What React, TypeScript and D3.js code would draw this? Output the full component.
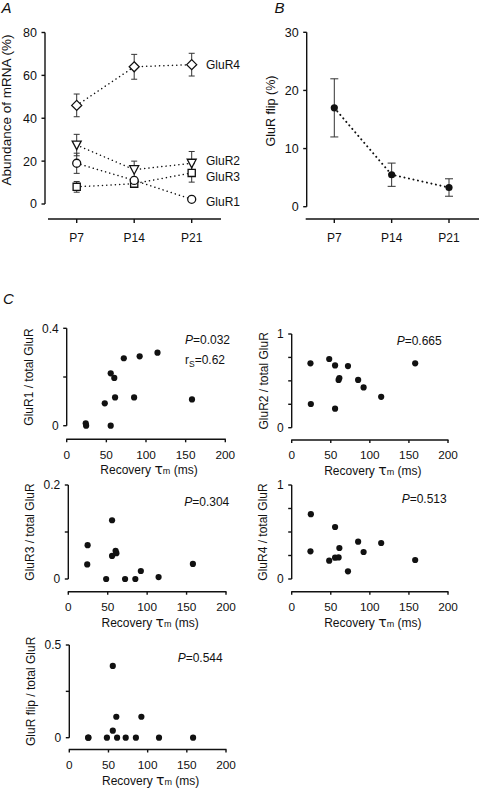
import React from "react";
import * as d3 from "d3";

// ---------- Data ----------
const days = ["P7", "P14", "P21"];
const gluR1 = [19, 11, 2.2];
const gluR1Err = [4.7, 1.5, 0.8];
const gluR2 = [27.5, 16, 19];
const gluR2Err = [5, 4, 5.5];
const gluR3 = [8, 9.5, 14.5];
const gluR3Err = [2.5, 1.5, 4.3];
const gluR4 = [46, 64, 65];
const gluR4Err = [5.3, 5.8, 5.3];
const flipPct = [17, 5.5, 3.3];
const flipPctErr = [5, 2, 1.5];

const aTicks = [0, 20, 40, 60, 80];
const bTicks = [0, 10, 20, 30];
const tauTicks = [0, 50, 100, 150, 200];

const tau = [24, 24.5, 48, 55.5, 55.5, 60, 61, 72, 85, 92, 114.5, 158];
const r1Frac = [0.01, 0, 0.092, 0, 0.215, 0.196, 0.116, 0.277, 0.116, 0.285, 0.3, 0.108];
const r2Frac = [0.687, 0.253, 0.733, 0.665, 0.203, 0.51, 0.53, 0.658, 0.51, 0.43, 0.33, 0.687];
const r3Frac = [0.031, 0.072, 0, 0.125, 0.049, 0.06, 0.055, 0, 0, 0.017, 0.004, 0.032];
const r4Frac = [0.294, 0.69, 0.195, 0.227, 0.553, 0.23, 0.33, 0.082, 0.397, 0.287, 0.383, 0.202];
const flipFrac = [0, 0, 0, 0.387, 0.038, 0.113, 0, 0, 0, 0.113, 0, 0];

const FONT = "'Liberation Sans', Arial, Helvetica, sans-serif";
const INK = "#111";

// ---------- marker shapes ----------
function markerPath(kind: string, cx: number, cy: number): string {
  if (kind === "diamond") {
    const s = 5;
    return `M${cx},${cy - s}L${cx + s},${cy}L${cx},${cy + s}L${cx - s},${cy}Z`;
  }
  if (kind === "triangle") {
    const w = 4.5, h = 4;
    return `M${cx - w},${cy - h}L${cx + w},${cy - h}L${cx},${cy + h + 0.5}Z`;
  }
  if (kind === "square") {
    const s = 3.6;
    return `M${cx - s},${cy - s}L${cx + s},${cy - s}L${cx + s},${cy + s}L${cx - s},${cy + s}Z`;
  }
  const r = 4;
  return `M${cx + r},${cy}A${r},${r} 0 1,1 ${cx - r},${cy}A${r},${r} 0 1,1 ${cx + r},${cy}Z`;
}

function ErrorBar({ x, y1, y2, cap }: { x: number; y1: number; y2: number; cap: number }) {
  return (
    <g stroke="#333" strokeWidth={1}>
      <line x1={x} x2={x} y1={y1} y2={y2} />
      <line x1={x - cap / 2} x2={x + cap / 2} y1={y1} y2={y1} />
      <line x1={x - cap / 2} x2={x + cap / 2} y1={y2} y2={y2} />
    </g>
  );
}

// ---------- Panel A ----------
function PanelA() {
  const x = d3.scalePoint<string>().domain(days).range([76.7, 191.7]);
  const y = d3.scaleLinear().domain([0, 80]).range([204, 32.5]);
  const series = [
    { name: "GluR4", vals: gluR4, err: gluR4Err, kind: "diamond", labelY: 69 },
    { name: "GluR2", vals: gluR2, err: gluR2Err, kind: "triangle", labelY: 165 },
    { name: "GluR3", vals: gluR3, err: gluR3Err, kind: "square", labelY: 181 },
    { name: "GluR1", vals: gluR1, err: gluR1Err, kind: "circle", labelY: 206 },
  ];
  const line = d3
    .line<number>()
    .x((_, i) => x(days[i])!)
    .y((d) => y(d));
  const axX = 45;
  const axisY = 219;
  return (
    <g>
      <text x={1.5} y={13} fontSize={15} fontStyle="italic" fontFamily={FONT} fill={INK}>A</text>
      {/* y axis */}
      <line x1={axX} x2={axX} y1={y(80)} y2={y(0)} stroke={INK} strokeWidth={1.4} />
      {aTicks.map((t) => (
        <g key={t}>
          <line x1={axX - 3.5} x2={axX} y1={y(t)} y2={y(t)} stroke={INK} strokeWidth={1.4} />
          <text x={axX - 8} y={y(t)} dy="0.35em" textAnchor="end" fontSize={12.5} fontFamily={FONT} fill={INK}>{t}</text>
        </g>
      ))}
      <text transform={`translate(6,110) rotate(-90)`} dy="0.35em" textAnchor="middle" fontSize={13.5} fontFamily={FONT} fill={INK}>
        Abundance of mRNA (%)
      </text>
      {/* x axis */}
      <line x1={x.range()[0] - 28.7} x2={x.range()[1] + 29.3} y1={axisY} y2={axisY} stroke={INK} strokeWidth={1.4} />
      {days.map((d) => (
        <g key={d}>
          <line x1={x(d)} x2={x(d)} y1={axisY} y2={axisY + 4} stroke={INK} strokeWidth={1.4} />
          <text x={x(d)} y={241.5} textAnchor="middle" fontSize={12} fontFamily={FONT} fill={INK}>{d}</text>
        </g>
      ))}
      {series.map((s) => (
        <path key={s.name + "l"} d={line(s.vals) || ""} fill="none" stroke={INK} strokeWidth={1.5} strokeDasharray="0.1 4.2" strokeLinecap="round" />
      ))}
      {series.map((s) =>
        s.vals.map((v, i) => (
          <ErrorBar key={s.name + i} x={x(days[i])!} y1={y(v + s.err[i])} y2={y(v - s.err[i])} cap={6} />
        ))
      )}
      {series.map((s) =>
        s.vals.map((v, i) => (
          <path key={s.name + "m" + i} d={markerPath(s.kind, x(days[i])!, y(v))} fill="#fff" stroke={INK} strokeWidth={1.3} />
        ))
      )}
      {series.map((s) => (
        <text key={s.name + "t"} x={206} y={s.labelY} fontSize={12} fontFamily={FONT} fill={INK}>{s.name}</text>
      ))}
    </g>
  );
}

// ---------- Panel B ----------
function PanelB() {
  const x = d3.scalePoint<string>().domain(days).range([334.3, 449]);
  const y = d3.scaleLinear().domain([0, 30]).range([206.7, 32.3]);
  const line = d3
    .line<number>()
    .x((_, i) => x(days[i])!)
    .y((d) => y(d));
  const axX = 306.7;
  const axisY = 219;
  return (
    <g>
      <text x={274.5} y={13} fontSize={15} fontStyle="italic" fontFamily={FONT} fill={INK}>B</text>
      <line x1={axX} x2={axX} y1={y(30)} y2={y(0)} stroke={INK} strokeWidth={1.4} />
      {bTicks.map((t) => (
        <g key={t}>
          <line x1={axX - 3.5} x2={axX} y1={y(t)} y2={y(t)} stroke={INK} strokeWidth={1.4} />
          <text x={axX - 8} y={y(t)} dy="0.35em" textAnchor="end" fontSize={12.5} fontFamily={FONT} fill={INK}>{t}</text>
        </g>
      ))}
      <text transform={`translate(270.5,111) rotate(-90)`} dy="0.35em" textAnchor="middle" fontSize={12.5} fontFamily={FONT} fill={INK}>
        GluR flip (%)
      </text>
      <line x1={x.range()[0] - 28.6} x2={479} y1={axisY} y2={axisY} stroke={INK} strokeWidth={1.4} />
      {days.map((d) => (
        <g key={d}>
          <line x1={x(d)} x2={x(d)} y1={axisY} y2={axisY + 4} stroke={INK} strokeWidth={1.4} />
          <text x={x(d)} y={241.5} textAnchor="middle" fontSize={12} fontFamily={FONT} fill={INK}>{d}</text>
        </g>
      ))}
      <path d={line(flipPct) || ""} fill="none" stroke={INK} strokeWidth={2} strokeDasharray="0.1 4.5" strokeLinecap="round" />
      {flipPct.map((v, i) => (
        <ErrorBar key={i} x={x(days[i])!} y1={y(v + flipPctErr[i])} y2={y(v - flipPctErr[i])} cap={8} />
      ))}
      {flipPct.map((v, i) => (
        <circle key={"c" + i} cx={x(days[i])!} cy={y(v)} r={3.6} fill={INK} />
      ))}
    </g>
  );
}

// ---------- Scatter panels ----------
type ScatterProps = {
  left: number;
  right: number;
  top: number;
  bottom: number;
  axisY: number;
  ymax: number;
  ticks: number[];
  tickLabels: string[];
  ylabel: string;
  ylabelX: number;
  ys: number[];
  p: string;
  pX: number;
  pY: number;
  rs?: string;
};

function Scatter(props: ScatterProps) {
  const { left, right, top, bottom, axisY, ymax, ticks, tickLabels, ylabel, ylabelX, ys, p, pX, pY, rs } = props;
  const x = d3.scaleLinear().domain([0, 200]).range([left, right]);
  const y = d3.scaleLinear().domain([0, ymax]).range([bottom, top]);
  const center = (left + right) / 2;
  return (
    <g fontFamily={FONT} fill={INK}>
      <line x1={left} x2={left} y1={y(ymax)} y2={y(0)} stroke={INK} strokeWidth={1.4} />
      {ticks.map((t, i) => (
        <g key={t}>
          <line x1={left - 3.5} x2={left} y1={y(t)} y2={y(t)} stroke={INK} strokeWidth={1.4} />
          {tickLabels[i] !== "" && (
            <text x={left - 8} y={y(t)} dy="0.35em" textAnchor="end" fontSize={12}>{tickLabels[i]}</text>
          )}
        </g>
      ))}
      <text transform={`translate(${ylabelX},${(top + bottom) / 2}) rotate(-90)`} dy="0.35em" textAnchor="middle" fontSize={12}>
        {ylabel}
      </text>
      <line x1={left - 0.5} x2={right + 0.5} y1={axisY} y2={axisY} stroke={INK} strokeWidth={1.4} />
      {tauTicks.map((t) => (
        <g key={t}>
          <line x1={x(t)} x2={x(t)} y1={axisY} y2={axisY + 3} stroke={INK} strokeWidth={1.4} />
          <text x={x(t)} y={axisY + 19.3} textAnchor="middle" fontSize={11.8}>{t}</text>
        </g>
      ))}
      <text x={center + 3} y={axisY + 35} textAnchor="middle" fontSize={12}>
        Recovery <tspan fontSize={14} fontFamily="'DejaVu Sans', sans-serif">τ</tspan>
        <tspan fontSize={9}>m</tspan> (ms)
      </text>
      {ys.map((v, i) => (
        <circle key={i} cx={x(tau[i])} cy={y(v)} r={3.1} fill={INK} />
      ))}
      <text x={pX} y={pY} textAnchor="end" fontSize={12}>
        <tspan fontStyle="italic">P</tspan>=
        {p}
      </text>
      {rs && (
        <text x={pX - 45} y={pY + 19.5} fontSize={12}>
          r<tspan fontSize={8.5} dy={3}>S</tspan>
          <tspan dy={-3}>={rs}</tspan>
        </text>
      )}
    </g>
  );
}

export default function App() {
  return (
    <svg
      width={480}
      height={788}
      viewBox="0 0 480 788"
      style={{ position: "absolute", left: 0, top: 0, background: "#fff" }}
    >
      <rect x={0} y={0} width={480} height={788} fill="#fff" />
      <PanelA />
      <PanelB />
      <text x={3} y={304} fontSize={15} fontStyle="italic" fontFamily={FONT} fill={INK}>C</text>
      <Scatter left={66.7} right={225.3} top={328.3} bottom={425.7} axisY={439.3} ymax={0.4}
        ticks={[0, 0.2, 0.4]} tickLabels={["0", "", "0.4"]} ylabel="GluR1 / total GluR" ylabelX={28.5}
        ys={r1Frac} p="0.032" pX={230} pY={344} rs="0.62" />
      <Scatter left={291.7} right={448} top={334} bottom={427.7} axisY={440} ymax={1}
        ticks={[0, 0.25, 0.5, 0.75, 1]} tickLabels={["0", "", "", "", "1"]} ylabel="GluR2 / total GluR" ylabelX={264}
        ys={r2Frac} p="0.665" pX={441.7} pY={345} />
      <Scatter left={68.3} right={226} top={485} bottom={579} axisY={591.7} ymax={0.2}
        ticks={[0, 0.1, 0.2]} tickLabels={["0", "", "0.2"]} ylabel="GluR3 / total GluR" ylabelX={29.5}
        ys={r3Frac} p="0.304" pX={229.3} pY={505.5} />
      <Scatter left={291.7} right={448} top={485} bottom={579} axisY={591.7} ymax={1}
        ticks={[0, 0.25, 0.5, 0.75, 1]} tickLabels={["0", "", "", "", "1"]} ylabel="GluR4 / total GluR" ylabelX={263}
        ys={r4Frac} p="0.513" pX={446.7} pY={503} />
      <Scatter left={69.3} right={226} top={645} bottom={737.7} axisY={749.5} ymax={0.5}
        ticks={[0, 0.25, 0.5]} tickLabels={["0", "", "0.5"]} ylabel="GluR flip / total GluR" ylabelX={31}
        ys={flipFrac} p="0.544" pX={222.7} pY={661.5} />
    </svg>
  );
}
